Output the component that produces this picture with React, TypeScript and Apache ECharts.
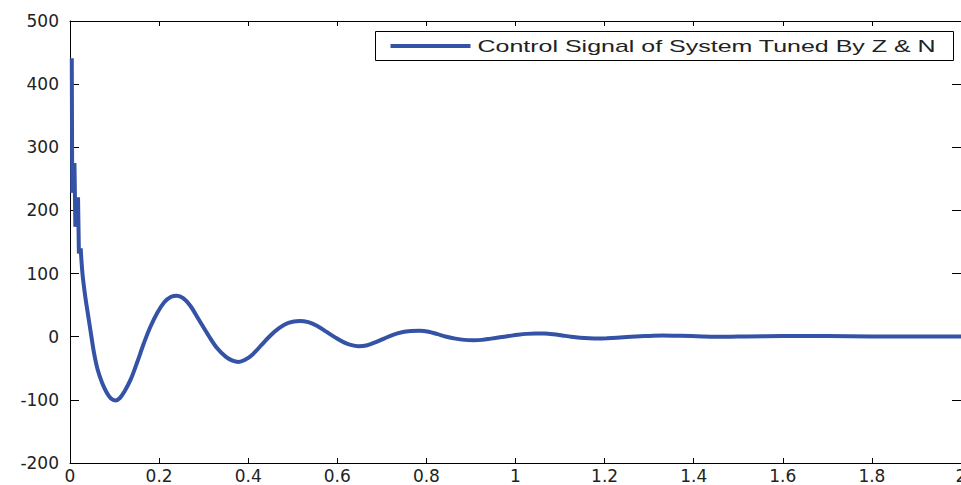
import React, { useEffect, useRef } from "react";
import * as echarts from "echarts";

const seriesName = "Control Signal of System Tuned By Z & N";

const timeValues = [
  0.004, 0.005, 0.01, 0.012, 0.018, 0.02, 0.024, 0.028, 0.034, 0.04, 0.047, 0.054,
  0.062, 0.072, 0.082, 0.092, 0.102, 0.112, 0.122, 0.136, 0.15, 0.166, 0.18, 0.196,
  0.212, 0.226, 0.24, 0.254, 0.27, 0.29, 0.31, 0.33, 0.35, 0.365, 0.378, 0.392,
  0.41, 0.43, 0.45, 0.47, 0.49, 0.515, 0.535, 0.555, 0.575, 0.595, 0.615, 0.63,
  0.648, 0.665, 0.685, 0.705, 0.725, 0.745, 0.765, 0.785, 0.805, 0.825, 0.845,
  0.865, 0.885, 0.905, 0.925, 0.945, 0.965, 0.985, 1.005, 1.025, 1.045, 1.065,
  1.085, 1.105, 1.125, 1.145, 1.165, 1.185, 1.205, 1.25, 1.29, 1.33, 1.37, 1.42,
  1.47, 1.52, 1.6, 1.7, 1.8, 1.9, 2.0,
];

const signalValues = [
  441, 228, 275, 174, 221, 132, 140, 100, 65, 37, 5, -26,
  -52, -73, -88, -98, -101, -97, -87, -68, -42, -10, 15, 38,
  55, 63, 65, 61, 49, 26, 3, -18, -32, -38, -40, -37,
  -28, -13, 2, 14, 22, 25, 23, 17, 8, -1, -9, -13,
  -15, -14, -9, -3, 3, 7, 9, 9.5, 8, 4, 0,
  -3, -5, -5.5, -5, -3, -1, 1, 3, 4.5, 5, 5,
  4, 2, 0, -1.5, -2.5, -3, -2.5, -0.5, 1, 2, 1.5, 0.5,
  0, 0.5, 1, 1, 0.5, 0.5, 0.5,
];

// the first few samples form a jagged staircase; the rest is a smooth decay
const STAIR_END_INDEX = 6;

const xTickLabels = ["0", "0.2", "0.4", "0.6", "0.8", "1", "1.2", "1.4", "1.6", "1.8", "2"];
const yTickLabels = ["-200", "-100", "0", "100", "200", "300", "400", "500"];

const LINE_COLOR = "#3553a6";

export default function App() {
  const ref = useRef<HTMLDivElement>(null);

  useEffect(() => {
    if (!ref.current) return;
    const chart = echarts.init(ref.current, undefined, { renderer: "svg" });
    const labelFont = { fontFamily: "DejaVu Sans", fontSize: 17, color: "#222" };
    const xMin = Number(xTickLabels[0]);
    const xMax = Number(xTickLabels[xTickLabels.length - 1]);
    const yMin = Number(yTickLabels[0]);
    const yMax = Number(yTickLabels[yTickLabels.length - 1]);
    const mkLine = () => ({ show: true, onZero: false, lineStyle: { color: "#000", width: 1 } });
    const mkTick = (len: number) => ({ show: true, inside: true, length: len, lineStyle: { color: "#000", width: 1 } });

    const points = timeValues.map((t, i) => [t, signalValues[i]]);
    const stairPoints = points.slice(0, STAIR_END_INDEX + 1);
    const smoothPoints = points.slice(STAIR_END_INDEX);

    chart.setOption({
      animation: false,
      backgroundColor: "#fff",
      grid: {
        left: 70,
        top: 21,
        right: 0,
        bottom: 22,
        containLabel: false,
        outerBoundsMode: "none",
      },
      xAxis: [
        {
          show: true,
          type: "value",
          position: "bottom",
          min: xMin,
          max: xMax,
          interval: 0.2,
          axisLine: mkLine(),
          axisTick: mkTick(5),
          axisLabel: {
            ...labelFont,
            margin: 4,
            alignMinLabel: "center",
            alignMaxLabel: "center",
            formatter: (v: number) => String(Math.round(v * 10) / 10),
          },
          splitLine: { show: false },
        },
        {
          show: true,
          type: "value",
          position: "top",
          min: xMin,
          max: xMax,
          interval: 0.2,
          axisLine: mkLine(),
          axisTick: mkTick(5),
          axisLabel: { show: false },
          splitLine: { show: false },
        },
      ],
      yAxis: [
        {
          show: true,
          type: "value",
          position: "left",
          min: yMin,
          max: yMax,
          interval: 100,
          axisLine: mkLine(),
          axisTick: mkTick(9),
          axisLabel: { ...labelFont, margin: 11 },
          splitLine: { show: false },
        },
        {
          show: true,
          type: "value",
          position: "right",
          min: yMin,
          max: yMax,
          interval: 100,
          axisLine: mkLine(),
          axisTick: mkTick(9),
          axisLabel: { show: false },
          splitLine: { show: false },
        },
      ],
      series: [
        {
          name: seriesName,
          type: "line",
          xAxisIndex: 0,
          yAxisIndex: 0,
          data: stairPoints,
          showSymbol: false,
          smooth: false,
          lineStyle: { color: LINE_COLOR, width: 4 },
          itemStyle: { color: LINE_COLOR },
          clip: true,
        },
        {
          name: seriesName,
          type: "line",
          xAxisIndex: 0,
          yAxisIndex: 0,
          data: smoothPoints,
          showSymbol: false,
          smooth: 0.35,
          lineStyle: { color: LINE_COLOR, width: 4 },
          itemStyle: { color: LINE_COLOR },
          clip: true,
        },
      ],
      graphic: [
        {
          type: "group",
          left: 375,
          top: 31,
          z: 100,
          children: [
            {
              type: "rect",
              shape: { x: 0, y: 0, width: 578, height: 29 },
              style: { fill: "#fff", stroke: "#000", lineWidth: 1 },
            },
            {
              type: "line",
              shape: { x1: 15, y1: 14.5, x2: 95, y2: 14.5 },
              style: { stroke: LINE_COLOR, lineWidth: 4 },
            },
            {
              type: "text",
              x: 102,
              y: 15,
              scaleX: 1.47,
              style: {
                text: seriesName,
                fontFamily: "Liberation Sans",
                fontSize: 17,
                fill: "#222",
                verticalAlign: "middle",
                align: "left",
              },
            },
          ],
        },
      ],
    });
    return () => chart.dispose();
  }, []);

  return (
    <div
      ref={ref}
      style={{ position: "fixed", left: 0, top: 0, width: 961, height: 485, background: "#fff" }}
    />
  );
}
